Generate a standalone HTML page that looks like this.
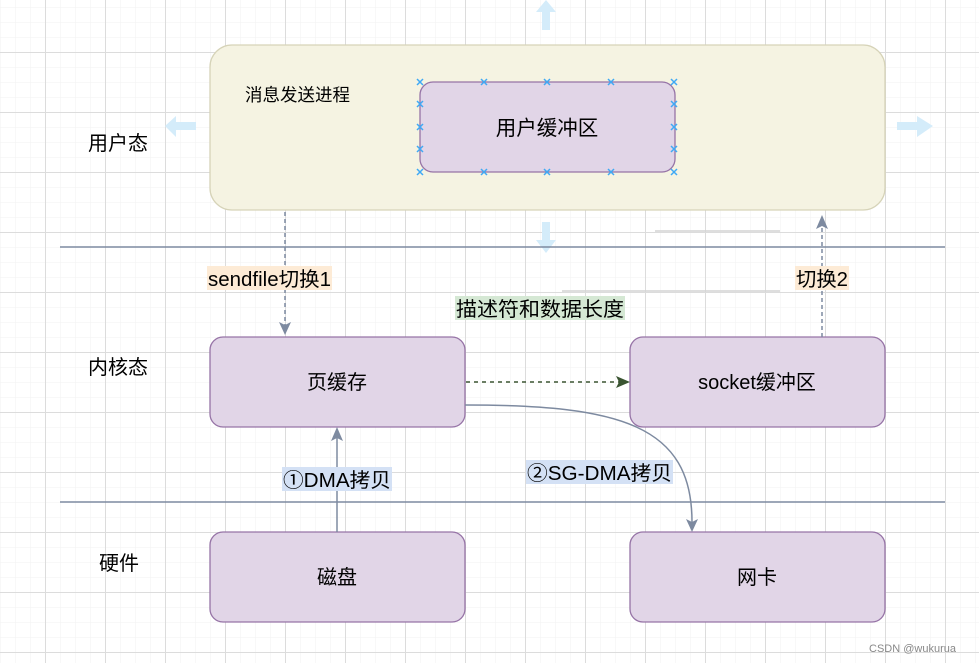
<!DOCTYPE html>
<html><head><meta charset="utf-8"><style>
html,body{margin:0;padding:0;background:#fff}
svg{display:block}
text{font-family:"Liberation Sans","Noto Sans CJK SC",sans-serif;fill:#000}
</style></head><body>
<svg width="979" height="663" viewBox="0 0 979 663" xmlns="http://www.w3.org/2000/svg">
<defs>
<pattern id="minor" x="0" y="7" width="15" height="15" patternUnits="userSpaceOnUse">
<path d="M0 0H15M0 0V15" stroke="#f2f2f2" stroke-width="1" fill="none"/>
</pattern>
<pattern id="major" x="45" y="52" width="60" height="60" patternUnits="userSpaceOnUse">
<path d="M0 0.5H60M0.5 0V60" stroke="#dcdcdc" stroke-width="1" fill="none"/>
</pattern>
<g id="xm"><path d="M-3 -3L3 3M-3 3L3 -3" stroke="#3fa9f5" stroke-width="1.5"/></g>
</defs>
<rect width="979" height="663" fill="#fff"/>
<rect width="979" height="663" fill="url(#minor)"/>
<rect width="979" height="663" fill="url(#major)"/>

<g fill="#d4ecfa">
<path d="M546 0 L556 12 L550 12 L550 30 L542 30 L542 12 L536 12 Z"/>
<path d="M165 126 L176 116 L176 122 L196 122 L196 130 L176 130 L176 137 Z"/>
<path d="M933 126 L917 116 L917 122 L897 122 L897 130 L917 130 L917 137 Z"/>
<path d="M546 253 L556 240 L550 240 L550 222 L542 222 L542 240 L536 240 Z"/>
</g>

<rect x="210" y="45" width="675" height="165" rx="22" fill="#f5f3e2" stroke="#d6d3b8" stroke-width="1.3"/>
<text x="245" y="101" font-size="17.5">消息发送进程</text>
<rect x="420" y="82" width="255" height="90" rx="13" fill="#e1d5e7" stroke="#9673a6" stroke-width="1.3"/>
<text x="547" y="135" font-size="20.5" text-anchor="middle">用户缓冲区</text>
<g>
<use href="#xm" x="420" y="82"/><use href="#xm" x="484" y="82"/><use href="#xm" x="547" y="82"/><use href="#xm" x="611" y="82"/><use href="#xm" x="674" y="82"/>
<use href="#xm" x="420" y="172"/><use href="#xm" x="484" y="172"/><use href="#xm" x="547" y="172"/><use href="#xm" x="611" y="172"/><use href="#xm" x="674" y="172"/>
<use href="#xm" x="420" y="104"/><use href="#xm" x="420" y="127"/><use href="#xm" x="420" y="149"/>
<use href="#xm" x="674" y="104"/><use href="#xm" x="674" y="127"/><use href="#xm" x="674" y="149"/>
</g>

<line x1="60" y1="247" x2="945" y2="247" stroke="#7d8aa0" stroke-width="1.5"/>
<line x1="60" y1="502" x2="945" y2="502" stroke="#7d8aa0" stroke-width="1.5"/>
<line x1="655" y1="231" x2="780" y2="231" stroke="#d4d4d4" stroke-width="1.5"/>
<line x1="562" y1="291" x2="780" y2="291" stroke="#d4d4d4" stroke-width="1.5"/>

<text x="88" y="150" font-size="20">用户态</text>
<text x="88" y="374" font-size="20">内核态</text>
<text x="99" y="570" font-size="20">硬件</text>

<g fill="#e1d5e7" stroke="#9673a6" stroke-width="1.3">
<rect x="210" y="337" width="255" height="90" rx="13"/>
<rect x="630" y="337" width="255" height="90" rx="13"/>
<rect x="210" y="532" width="255" height="90" rx="13"/>
<rect x="630" y="532" width="255" height="90" rx="13"/>
</g>
<text x="337" y="389" font-size="20" text-anchor="middle">页缓存</text>
<text x="757" y="389" font-size="20" text-anchor="middle">socket缓冲区</text>
<text x="337" y="584" font-size="20" text-anchor="middle">磁盘</text>
<text x="757" y="584" font-size="20" text-anchor="middle">网卡</text>

<line x1="285" y1="212" x2="285" y2="325" stroke="#7d8aa0" stroke-width="1.5" stroke-dasharray="4 3"/>
<path d="M279 322 L285 335 L291 322 L285 325 Z" fill="#7d8aa0"/>
<rect x="207" y="266" width="125" height="24" fill="#fdebd6"/>
<text x="208" y="286" font-size="20" textLength="123" lengthAdjust="spacingAndGlyphs">sendfile切换1</text>

<line x1="822" y1="337" x2="822" y2="226" stroke="#7d8aa0" stroke-width="1.5" stroke-dasharray="4 3"/>
<path d="M816 229 L822 215 L828 229 L822 226 Z" fill="#7d8aa0"/>
<rect x="795" y="266" width="54" height="24" fill="#fdebd6"/>
<text x="796" y="286" font-size="20" textLength="52" lengthAdjust="spacingAndGlyphs">切换2</text>

<line x1="466" y1="382" x2="620" y2="382" stroke="#3a5431" stroke-width="1.5" stroke-dasharray="4 4"/>
<path d="M616 376 L630 382 L616 388 L619 382 Z" fill="#3a5431"/>
<rect x="455" y="296" width="170" height="24" fill="#d5e8d4"/>
<text x="456" y="316" font-size="20" textLength="168" lengthAdjust="spacingAndGlyphs">描述符和数据长度</text>

<line x1="337" y1="532" x2="337" y2="438" stroke="#7d8aa0" stroke-width="1.5"/>
<path d="M331 441 L337 427 L343 441 L337 438 Z" fill="#7d8aa0"/>
<rect x="282" y="467" width="110" height="24" fill="#d4e1f5"/>
<text x="283" y="487" font-size="20" textLength="108" lengthAdjust="spacingAndGlyphs">①DMA拷贝</text>

<path d="M465 405 C 620 405, 692 425, 692 522" fill="none" stroke="#7d8aa0" stroke-width="1.5"/>
<path d="M686 519 L692 532 L698 519 L692 522 Z" fill="#7d8aa0"/>
<rect x="526" y="460" width="147" height="24" fill="#d4e1f5"/>
<text x="527" y="480" font-size="20" textLength="145" lengthAdjust="spacingAndGlyphs">②SG-DMA拷贝</text>

<text x="869" y="652" font-size="11" style="fill:#888">CSDN @wukurua</text>
</svg>
</body></html>
